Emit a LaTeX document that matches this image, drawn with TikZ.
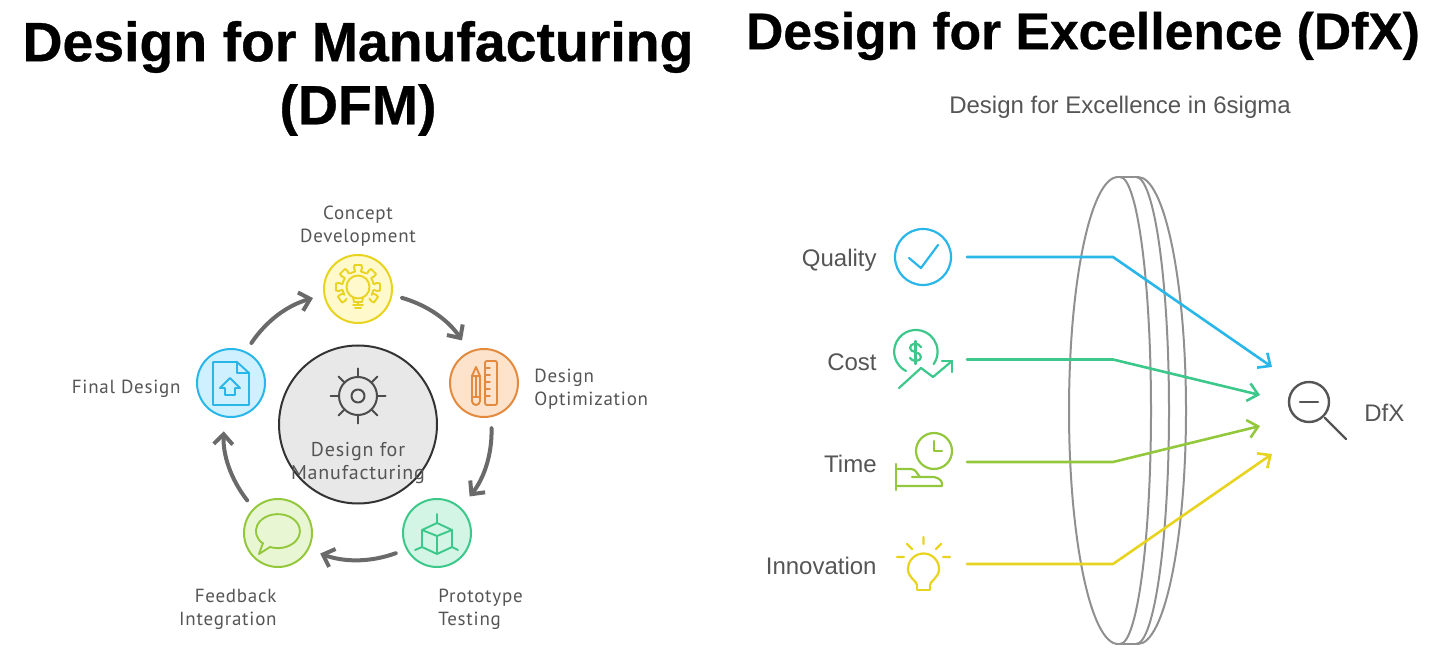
\documentclass[tikz,border=0pt]{standalone}
\usepackage{fontspec}
\setmainfont{Liberation Sans}
\newfontfamily\titlefont[FakeBold=0.6]{Liberation Sans Bold}
\newfontfamily\handfont[LetterSpace=4]{PT Sans}
\usetikzlibrary{arrows.meta}
\definecolor{ylwline}{HTML}{E8D31F}
\definecolor{ylwfill}{HTML}{FFF9CC}
\definecolor{orgline}{HTML}{E38A3E}
\definecolor{orgfill}{HTML}{FDE3CC}
\definecolor{bluline}{HTML}{29B6E8}
\definecolor{blufill}{HTML}{CFF1FF}
\definecolor{grnline}{HTML}{3CC88A}
\definecolor{grnfill}{HTML}{D3F5E5}
\definecolor{limline}{HTML}{94C83C}
\definecolor{limfill}{HTML}{E9F6D3}
\definecolor{txtgray}{HTML}{555555}
\definecolor{lensgray}{HTML}{909090}
\definecolor{ringgray}{HTML}{6A6A6A}
\begin{document}
\begin{tikzpicture}[x=0.5pt, y=-0.5pt, line join=round, line cap=round,
  title/.style={font=\titlefont\fontsize{27.7}{32}\selectfont, text=black, inner sep=0pt},
  hand/.style={font=\handfont\fontsize{9.5}{11}\selectfont, text=txtgray, inner sep=0pt, align=center},
  factor/.style={font=\fontsize{12}{14}\selectfont, text=txtgray, inner sep=0pt},
  stage/.style={circle, minimum size=34pt, inner sep=0pt, line width=1pt},
  ringarrow/.style={line width=2pt, ringgray, -{Straight Barb[length=5pt,width=9.5pt,line width=2pt]}},
  feed/.style={line width=1.3pt, -{Straight Barb[length=5pt,width=9pt,line width=1.3pt]}},
  icon/.style={line width=0.95pt},
  lens/.style={line width=1pt, lensgray}]
\useasboundingbox (0,0) rectangle (1440,657);
\node[title] (dfmtitle) at (358,47) {Design for Manufacturing};
\node[title] (dfmsub) at (358,110) {(DFM)};
\node[title, font=\titlefont\fontsize{25.8}{30}\selectfont] (dfxtitle) at (1083,36) {Design for Excellence (DfX)};
\node[font=\fontsize{12}{14}\selectfont, text=txtgray, inner sep=0pt] (dfxsub) at (1120,107) {Design for Excellence in 6sigma};
% left cycle
\node[circle, minimum size=79pt, inner sep=0pt, fill=black!9, draw=black!80, line width=1pt] (hub) at (358,424.5) {};
\node[stage, draw=ylwline, fill=ylwfill] (concept) at (358,289) {};
\node[stage, draw=orgline, fill=orgfill] (optim) at (484,383) {};
\node[stage, draw=grnline, fill=grnfill] (proto) at (437,533) {};
\node[stage, draw=limline, fill=limfill] (feedback) at (278,533) {};
\node[stage, draw=bluline, fill=blufill] (final) at (231,383) {};
\draw[ringarrow, shorten <=5pt, shorten >=5.5pt] (final.65) to[bend left=20] (concept.190);
\draw[ringarrow, shorten <=5pt, shorten >=6.5pt] (concept.-10) to[bend left=20] (optim.115);
\draw[ringarrow, shorten <=5.5pt, shorten >=7pt] (optim.-78) to[bend left=20] (proto.47);
\draw[ringarrow, shorten <=5.5pt, shorten >=6pt] (proto.-152) to[bend left=20] (feedback.-28);
\draw[ringarrow, shorten <=5pt, shorten >=7pt] (feedback.135) to[bend left=20] (final.-101);
\node[hand] (conceptlab) at (358,226) {Concept\\[0.5pt]Development};
\node[hand, anchor=west, align=left] (optimlab) at (534,389) {Design\\[0.5pt]Optimization};
\node[hand, anchor=west, align=left] (protolab) at (438,609) {Prototype\\[0.5pt]Testing};
\node[hand, anchor=east, align=right] (feedbacklab) at (277,609) {Feedback\\[0.5pt]Integration};
\node[hand, anchor=east] (finallab) at (181,389) {Final Design};
\node[hand, font=\handfont\fontsize{10}{11}\selectfont] (hublab) at (358,463) {Design for\\[0.5pt]Manufacturing};
% hub gear
\draw[line width=1pt, black!70] (358,396) circle (19) (358,396) circle (6.5);
\foreach \a in {0,45,...,315} \draw[line width=1pt, black!70] (358,396)++(\a:19) -- ++(\a:8.5);
% concept icon
\begin{scope}[shift={(358,287)}, icon, ylwline]
\draw (0,0) circle (11.5);
\draw (-5,10) -- (-4,15) -- (4,15) -- (5,10);
\draw (-5,18) -- (5,18) (-3,21) -- (3,21) (0,15) -- (0,18);
\foreach \a in {0,45,90,135,180,215,325}
  \draw[rotate=\a] (16,-3) -- (19,-4) -- (22,-3.5) -- (22,3.5) -- (19,4) -- (16,3);
\draw (15.5,3) arc (11:30:16) (15.5,-3) arc (-11:-33:16) (-15.5,3) arc (169:150:16) (-15.5,-3) arc (-169:-147:16);
\draw (3,-15.5) arc (-79:-60:16) (-3,-15.5) arc (-101:-120:16);
\end{scope}
% optimization icon
\begin{scope}[icon, orgline]
\draw[rounded corners=1pt] (485,361) rectangle (497,405);
\foreach \y in {368,375,382,389,396} \draw (485,\y) -- (490,\y);
\draw (472,376) -- (476,367) -- (480,376) -- (480,401) arc[start angle=0, end angle=180, radius=4] -- cycle;
\draw (472,376) -- (480,376) (476,376) -- (476,397) (472,397) -- (480,397);
\end{scope}
% prototype icon
\begin{scope}[icon, grnline]
\draw (437,523) -- (452,530) -- (437,536) -- (422,530) -- cycle;
\draw (422,530) -- (422,547) -- (437,554) -- (452,547) -- (452,530) (437,536) -- (437,554);
\draw (437,514) -- (437,523) (422,547) -- (415,550) (452,547) -- (458,550);
\end{scope}
% feedback icon
\begin{scope}[icon, limline]
\draw (263,543) -- (259,554) -- (270,547) arc[start angle=111, end angle=-227, x radius=22, y radius=17] -- cycle;
\end{scope}
% final icon
\begin{scope}[icon, bluline]
\draw (237,362) -- (213,362) -- (213,405) -- (249,405) -- (249,373) -- cycle;
\draw (237,362) -- (237,373) -- (249,373);
\draw (220,388) -- (230,378) -- (240,388) -- (235,388) -- (235,395) -- (225,395) -- (225,388) -- cycle;
\end{scope}
% right side lens
\draw[lens] (1118,177) -- (1138,177) (1118,644) -- (1138,644);
\draw[lens] (1118,177) arc[start angle=-90, end angle=-270, x radius=49, y radius=233.5];
\draw[lens] (1120,177) arc[start angle=-90, end angle=90, x radius=31, y radius=233.5];
\draw[lens] (1136,177) arc[start angle=-90, end angle=90, x radius=33, y radius=233.5];
\draw[lens] (1138,177) arc[start angle=-90, end angle=90, x radius=48, y radius=233.5];
% factors
\node[factor, anchor=east] (quality) at (877,260) {Quality};
\node[factor, anchor=east] (cost) at (877,362) {Cost};
\node[factor, anchor=east] (time) at (877,464) {Time};
\node[factor, anchor=east] (innov) at (877,566) {Innovation};
\node[factor, anchor=west] (dfx) at (1364,413) {DfX};
\coordinate (qstart) at (967,257);
\coordinate (qbend) at (1113,257);
\coordinate (qend) at (1272,367);
\coordinate (cstart) at (967,359.5);
\coordinate (cbend) at (1113,359.5);
\coordinate (cend) at (1260,395);
\coordinate (tstart) at (967,462);
\coordinate (tbend) at (1113,462);
\coordinate (tend) at (1260,426);
\coordinate (istart) at (967,564);
\coordinate (ibend) at (1113,564);
\coordinate (iend) at (1272,454);
\draw[feed, bluline] (qstart) -- (qbend) -- (qend);
\draw[feed, grnline] (cstart) -- (cbend) -- (cend);
\draw[feed, limline] (tstart) -- (tbend) -- (tend);
\draw[feed, ylwline] (istart) -- (ibend) -- (iend);
% quality icon
\begin{scope}[icon, line width=1.1pt, bluline]
\draw (923,257) circle (28);
\draw (909,258) -- (921,268) -- (938,245);
\end{scope}
% cost icon
\begin{scope}[icon, line width=1.1pt, grnline]
\draw (906,371) arc[start angle=117, end angle=395, radius=21.7];
\draw (899,388) -- (921,368) -- (933,377) -- (952,361);
\draw (942,361) -- (952,361) -- (952,372);
\draw (921,347) .. controls (918,342) and (910,343) .. (910,348) .. controls (910,353) and (921,351) .. (921,357) .. controls (921,362) and (912,362) .. (910,358);
\draw (915.5,341) -- (915.5,364);
\end{scope}
% time icon
\begin{scope}[icon, line width=1.1pt, limline]
\draw (934,451) circle (18);
\draw (934,441) -- (934,451) -- (942,451);
\draw (896,464) -- (896,490);
\draw (896,469) -- (911,469) .. controls (916,469) and (917,474) .. (920,477);
\draw (912,477) -- (934,477) .. controls (940,478) and (943,482) .. (942,486) -- (896,486);
\end{scope}
% innovation icon
\begin{scope}[icon, line width=1.1pt, ylwline]
\draw (917,585) -- (917,590) -- (930,590) -- (930,585);
\draw (917,585) .. controls (917,581) and (908,578) .. (908,569) arc[start angle=180, end angle=360, radius=15.5] .. controls (939,578) and (930,581) .. (930,585);
\draw (923.5,537) -- (923.5,544) (907,544) -- (912,549) (941,544) -- (936,549) (897,557) -- (904,557) (943,557) -- (950,557);
\end{scope}
% magnifier
\begin{scope}[line width=1.2pt, txtgray]
\draw (1309,402) circle (20);
\draw (1300,402) -- (1318,402);
\draw (1325,418) -- (1346,439);
\end{scope}
\end{tikzpicture}
\end{document}
